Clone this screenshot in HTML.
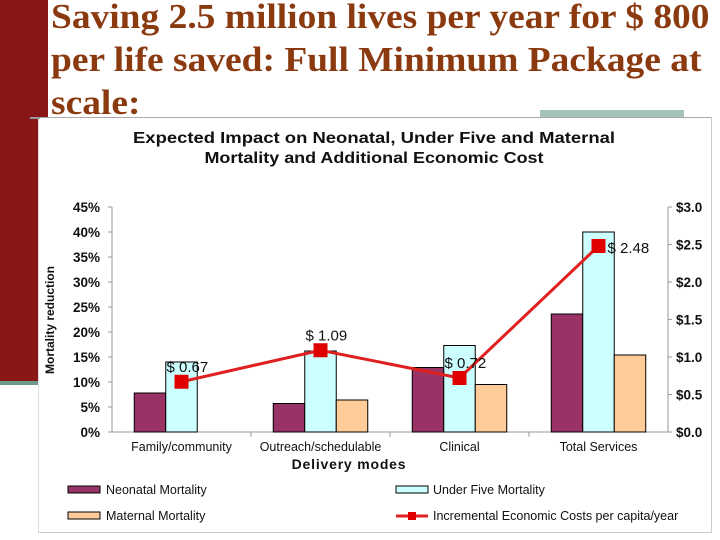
<!DOCTYPE html>
<html><head><meta charset="utf-8"><style>
body{margin:0;width:720px;height:540px;background:#fff;position:relative;overflow:hidden;font-family:"Liberation Sans",sans-serif}
.abs{position:absolute}
</style></head><body>
<div class="abs" style="left:0;top:0;width:48px;height:382px;background:#8a1717"></div>
<div class="abs" style="left:0;top:381px;width:40px;height:4px;background:#6a9a8a"></div>
<div class="abs" style="left:540px;top:110px;width:144px;height:9px;background:#a3c4b6"></div>
<div class="abs" style="left:51px;top:-5px;font-family:'Liberation Serif',serif;font-weight:bold;font-size:35px;line-height:43px;color:#8b3a0f;transform-origin:0 0;transform:scaleX(1.07);white-space:nowrap">Saving 2.5 million lives per year for $ 800<br>per life saved: Full Minimum Package at<br>scale:</div>
<div class="abs" style="left:38px;top:117px;width:672px;height:414px;background:#fff;border-top:1px solid #aaa;border-right:1px solid #ccc;border-bottom:1px solid #ccc;border-left:1px solid #ddd"></div>
<div class="abs" style="left:30px;top:117px;width:10px;height:2px;background:#999"></div>
<svg class="abs" style="left:0;top:0" width="720" height="540">
<text x="374" y="143" text-anchor="middle" font-size="16" font-weight="bold" fill="#111" textLength="482" lengthAdjust="spacingAndGlyphs">Expected Impact on Neonatal, Under Five and Maternal</text>
<text x="374" y="163" text-anchor="middle" font-size="16" font-weight="bold" fill="#111" textLength="339" lengthAdjust="spacingAndGlyphs">Mortality and Additional Economic Cost</text>
<g id="g"></g>
<text transform="translate(54,320) rotate(-90)" text-anchor="middle" font-size="12" font-weight="bold" fill="#111">Mortality reduction</text>
<text x="349" y="469" text-anchor="middle" font-size="14" font-weight="bold" fill="#111" letter-spacing="0.8">Delivery modes</text>
<g font-size="12.5" fill="#111">
<rect x="68" y="486" width="32" height="7" fill="#993366" stroke="#000"/>
<text x="106" y="494">Neonatal Mortality</text>
<rect x="68" y="512" width="32" height="7" fill="#ffcc99" stroke="#000"/>
<text x="106" y="520">Maternal Mortality</text>
<rect x="396" y="486" width="32" height="7" fill="#ccffff" stroke="#000"/>
<text x="433" y="494">Under Five Mortality</text>
<line x1="396" y1="516" x2="428" y2="516" stroke="#e02020" stroke-width="3"/>
<rect x="408" y="512" width="8" height="8" fill="#e00000"/>
<text x="433" y="520">Incremental Economic Costs per capita/year</text>
</g>
</svg>
<script>
const categories=["Family/community","Outreach/schedulable","Clinical","Total Services"];
const neonatal=[7.8,5.7,12.9,23.6];
const underFive=[14.0,16.2,17.3,40.0];
const maternal=[0,6.4,9.5,15.4];
const cost=[0.67,1.09,0.72,2.48];
const costLabels=["$ 0.67","$ 1.09","$ 0.72","$ 2.48"];
const leftTicks=[0,5,10,15,20,25,30,35,40,45];
const rightTicks=[0,0.5,1.0,1.5,2.0,2.5,3.0];
const rightTickLabels=["$0.0","$0.5","$1.0","$1.5","$2.0","$2.5","$3.0"];

const NS="http://www.w3.org/2000/svg";
const g=document.getElementById('g');
const X0=112,X1=668,Y0=432,Y1=207;
const yL=v=>Y0-(v/45)*(Y0-Y1);
const yR=v=>Y0-(v/3)*(Y0-Y1);
const gw=(X1-X0)/categories.length;
const cx=i=>X0+gw*(i+0.5);
const bw=31.5;
function el(t,a){const e=document.createElementNS(NS,t);for(const k in a)e.setAttribute(k,a[k]);g.appendChild(e);return e;}
let e;
e=el('line',{x1:X0,y1:Y1,x2:X0,y2:Y0,stroke:'#999'});


e=el('line',{x1:X1,y1:Y1,x2:X1,y2:Y0,stroke:'#999'});


e=el('line',{x1:X0,y1:Y0,x2:X1,y2:Y0,stroke:'#999'});


leftTicks.forEach(v=>{
  el('line',{x1:X0-4,y1:yL(v),x2:X0,y2:yL(v),stroke:'#999'});
  e=el('text',{x:X0-12,y:yL(v)+5,'text-anchor':'end','font-size':13.5,'font-weight':'bold',fill:'#111'});
  e.textContent=v+'%';
  
  
});
rightTicks.forEach((v,i)=>{
  el('line',{x1:X1,y1:yR(v),x2:X1+4,y2:yR(v),stroke:'#999'});
  e=el('text',{x:X1+8,y:yR(v)+5,'font-size':13.5,'font-weight':'bold',fill:'#111'});
  e.textContent=rightTickLabels[i];
  
  
});
for(let i=1;i<categories.length;i++) el('line',{x1:X0+gw*i,y1:Y0,x2:X0+gw*i,y2:Y0+5,stroke:'#999'});
categories.forEach((c,i)=>{
  e=el('text',{x:cx(i),y:451,'text-anchor':'middle','font-size':12.5,fill:'#111'});
  e.textContent=c;
  
  
  [[neonatal,'#993366',-1.5,'neonatal'],[underFive,'#ccffff',-0.5,'under-five'],[maternal,'#ffcc99',0.5,'maternal']].forEach(([arr,col,off,nm])=>{
    if(arr[i]<=0)return;
    const r=el('rect',{x:cx(i)+off*bw,y:yL(arr[i]),width:bw,height:Y0-yL(arr[i]),fill:col,stroke:'#000','stroke-width':1});
    
    
  });
});
e=el('polyline',{points:cost.map((v,i)=>cx(i)+','+yR(v)).join(' '),fill:'none',stroke:'#e02020','stroke-width':3});


cost.forEach((v,i)=>{
  const m=el('rect',{x:cx(i)-7,y:yR(v)-7,width:14,height:14,fill:'#e00000'});
  
  
  const lx=i===3?cx(i)+9:cx(i)-15, ly=i===3?yR(v)+7:yR(v)-10;
  const t=el('text',{x:lx,y:ly,'font-size':15,fill:'#111'});
  t.textContent=costLabels[i];
  
  
});
</script>
</body></html>
